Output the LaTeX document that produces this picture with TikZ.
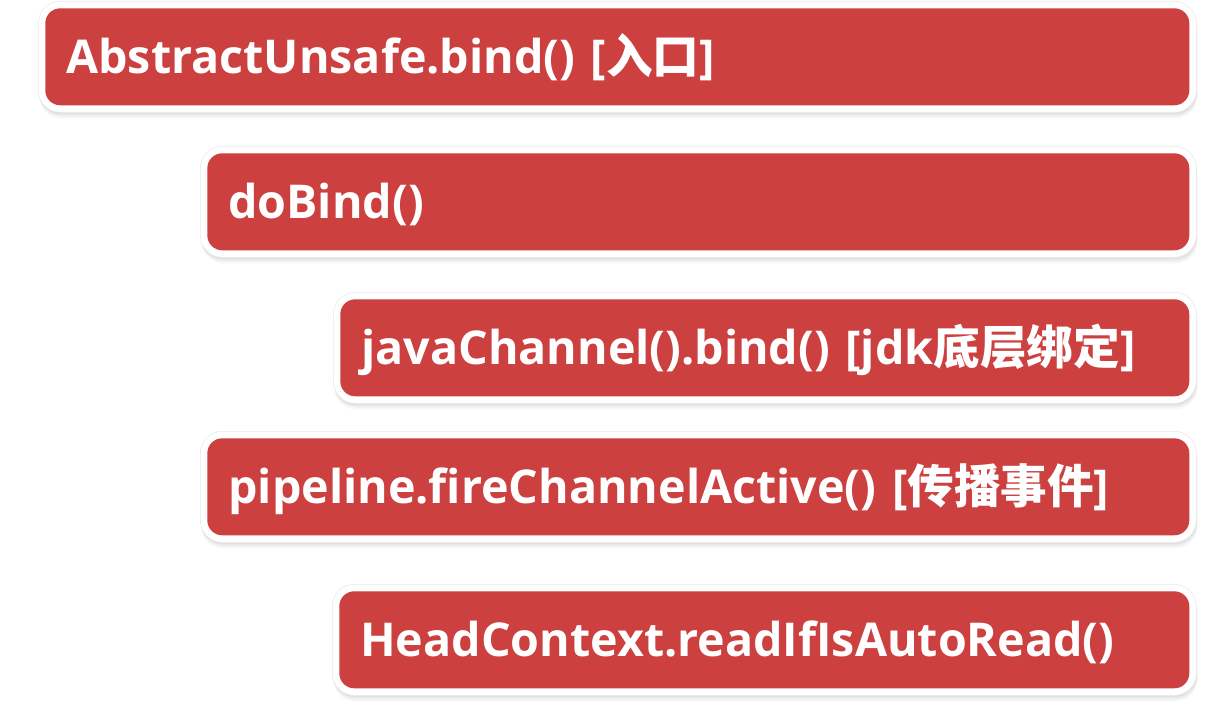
\documentclass[tikz,border=0pt]{standalone}
\usepackage{fontspec}
\setmainfont{Open Sans}
\newfontfamily\cjk{Noto Sans CJK SC}
\usetikzlibrary{shadows}
\definecolor{boxred}{RGB}{204,64,64}
\tikzset{
  stagebox/.style={
    anchor=north west, shape=rectangle, rounded corners=22pt,
    fill=white, draw=black!8, line width=0.6pt,
    drop shadow={shadow xshift=1pt, shadow yshift=-6pt, opacity=0.06},
    drop shadow={shadow xshift=1pt, shadow yshift=-4pt, opacity=0.08},
    drop shadow={shadow xshift=0.5pt, shadow yshift=-2pt, opacity=0.10},
    minimum height=111pt, inner xsep=28pt, inner ysep=0pt,
    text width=#1, align=left, text=white,
    font=\fontsize{46.6}{50}\selectfont\bfseries,
    text height=43pt, text depth=10pt,
    path picture={\fill[boxred, rounded corners=15pt]
      ([shift={(7pt,7pt)}]path picture bounding box.south west) rectangle
      ([shift={(-7pt,-7pt)}]path picture bounding box.north east);}
  }
}
\begin{document}
\begin{tikzpicture}[x=1pt,y=-1pt]
\useasboundingbox (0,0) rectangle (1222,711);
\fill[white] (0,0) rectangle (1222,711);
\node[stagebox=1102pt] (b1) at (38,1) {AbstractUnsafe.bind() [{\cjk 入口}]};
\node[stagebox=940pt] (b2) at (200,146) {doBind()};
\node[stagebox=807pt] (b3) at (333,292) {javaChannel().bind() [jdk{\cjk 底层绑定}]};
\node[stagebox=940pt] (b4) at (200,431) {pipeline.fireChannelActive() [{\cjk 传播事件}]};
\node[stagebox=808pt] (b5) at (332,584) {HeadContext.readIfIsAutoRead()};
\end{tikzpicture}
\end{document}
